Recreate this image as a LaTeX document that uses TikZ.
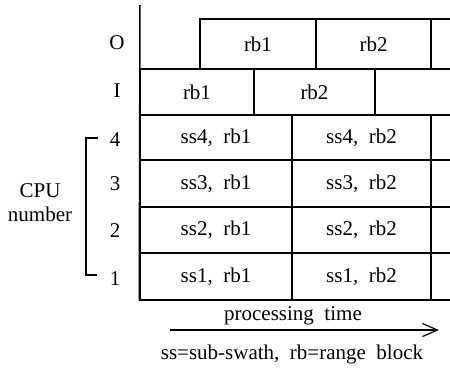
\documentclass[tikz,border=0pt]{standalone}
\usepackage{fontspec}
\setmainfont{Liberation Serif}
\usetikzlibrary{arrows.meta}
\newcommand\diagfont{\fontsize{21}{24}\selectfont\spaceskip=0.5em plus 0.1em minus 0.05em\relax}
\tikzset{
  txt/.style={font=\diagfont, inner sep=0pt},
  cell/.style={txt, draw, line width=1.5pt},
  rowlab/.style={txt},
  rule/.style={line width=1.5pt},
}
\begin{document}
\begin{tikzpicture}[x=1pt,y=-1pt]
\useasboundingbox (0,0) rectangle (450,370);
\begin{scope}
\clip (0,0) rectangle (450,370);
% O row
\node[cell, minimum width=116pt, minimum height=50pt] (o1) at (258,44) {rb1};
\node[cell, minimum width=115pt, minimum height=50pt] (o2) at (373.5,44) {rb2};
\node[cell, minimum width=89pt, minimum height=50pt] (o3) at (475.5,44) {};
% I row
\node[cell, minimum width=114pt, minimum height=46pt] (i1) at (197,92) {rb1};
\node[cell, minimum width=121pt, minimum height=46pt] (i2) at (314.5,92) {rb2};
\node[cell, minimum width=125pt, minimum height=46pt] (i3) at (437.5,92) {};
% CPU rows
\node[cell, minimum width=152pt, minimum height=45pt] (c41) at (216,137.5) {ss4, rb1};
\node[cell, minimum width=139pt, minimum height=45pt] (c42) at (361.5,137.5) {ss4, rb2};
\node[cell, minimum width=109pt, minimum height=45pt] (c43) at (485.5,137.5) {};
\node[cell, minimum width=152pt, minimum height=47pt] (c31) at (216,183.5) {ss3, rb1};
\node[cell, minimum width=139pt, minimum height=47pt] (c32) at (361.5,183.5) {ss3, rb2};
\node[cell, minimum width=109pt, minimum height=47pt] (c33) at (485.5,183.5) {};
\node[cell, minimum width=152pt, minimum height=46pt] (c21) at (216,230) {ss2, rb1};
\node[cell, minimum width=139pt, minimum height=46pt] (c22) at (361.5,230) {ss2, rb2};
\node[cell, minimum width=109pt, minimum height=46pt] (c23) at (485.5,230) {};
\node[cell, minimum width=152pt, minimum height=47pt] (c11) at (216,276.5) {ss1, rb1};
\node[cell, minimum width=139pt, minimum height=47pt] (c12) at (361.5,276.5) {ss1, rb2};
\node[cell, minimum width=109pt, minimum height=47pt] (c13) at (485.5,276.5) {};
\end{scope}
% vertical axis
\coordinate (axtop) at (140,5);
\draw[rule] (axtop) -- (c11.south west);
% row labels
\node[rowlab] (lo) at (117,43) {O};
\node[rowlab] (li) at (117,91) {I};
\node[rowlab] (l4) at (115,140) {4};
\node[rowlab] (l3) at (115,184) {3};
\node[rowlab] (l2) at (115,231) {2};
\node[rowlab] (l1) at (115,279) {1};
% bracket
\coordinate (brt) at (98,138);
\coordinate (brb) at (97,275);
\draw[rule, line width=1.2pt] (brt) -| (86,275) -- (brb);
\node[txt, align=center] (cpu) at (40,203) {CPU\\number};
% time arrow
\coordinate (ta) at (170,330);
\coordinate (tb) at (439,330);
\draw[rule, line width=1.2pt, -{Straight Barb[length=15pt,width=13pt,line width=1.2pt]}] (ta) -- (tb);
\node[txt] (pt) at (293,316) {processing time};
\node[txt] (fn) at (292,354) {ss=sub-swath, rb=range block};
\end{tikzpicture}
\end{document}
